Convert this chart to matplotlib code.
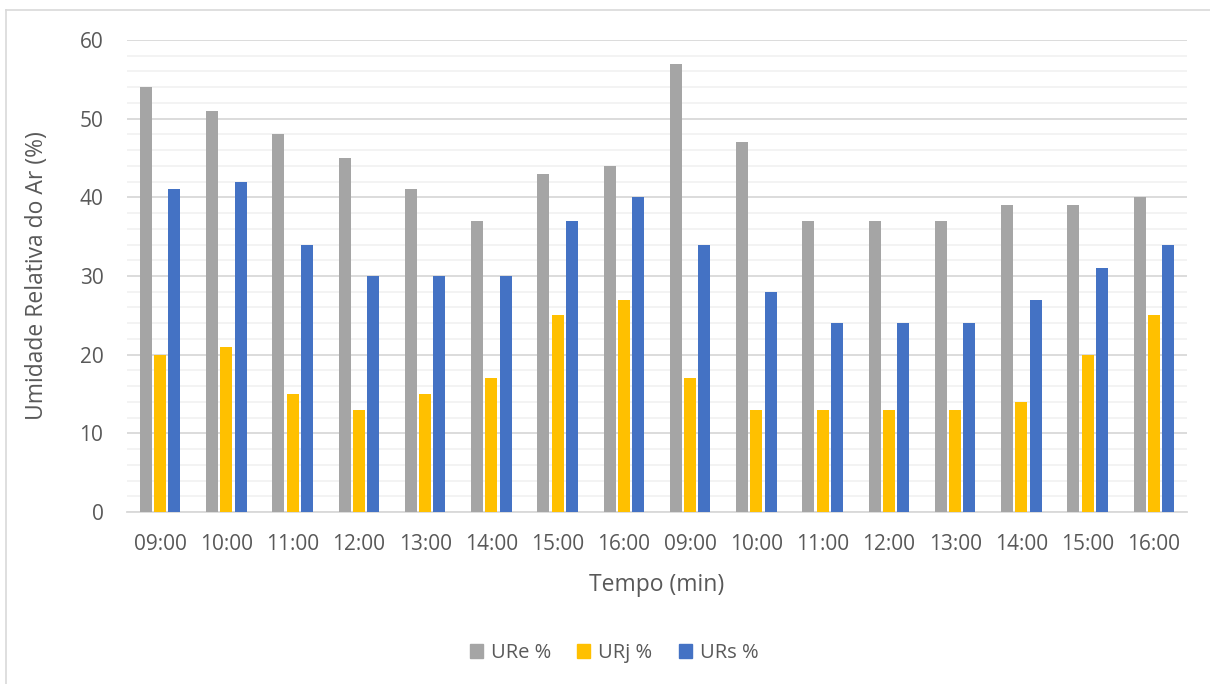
import matplotlib
matplotlib.use("Agg")
import matplotlib.pyplot as plt
from matplotlib.lines import Line2D
import numpy as np

categories = ["09:00", "10:00", "11:00", "12:00", "13:00", "14:00", "15:00", "16:00",
              "09:00", "10:00", "11:00", "12:00", "13:00", "14:00", "15:00", "16:00"]
ure = [54, 51, 48, 45, 41, 37, 43, 44, 57, 47, 37, 37, 37, 39, 39, 40]
urj = [20, 21, 15, 13, 15, 17, 25, 27, 17, 13, 13, 13, 13, 14, 20, 25]
urs = [41, 42, 34, 30, 30, 30, 37, 40, 34, 28, 24, 24, 24, 27, 31, 34]
series_names = ["URe %", "URj %", "URs %"]
colors = ["#A5A5A5", "#FFC000", "#4472C4"]

plt.rcParams["font.family"] = ["Open Sans", "DejaVu Sans"]
text_color = "#595959"

fig = plt.figure(figsize=(12.1, 6.84), dpi=100)
ax = fig.add_axes([127 / 1210, 1 - 512 / 684, 1060 / 1210, 472 / 684])

x = np.arange(len(categories))
width = 0.18
offset = 0.215
for vals, name, col, off in zip([ure, urj, urs], series_names, colors, [-offset, 0, offset]):
    ax.bar(x + off, vals, width=width, color=col, label=name, zorder=3)

ax.set_xlim(-0.5, len(categories) - 0.5)
ax.set_ylim(0, 60)
ax.set_yticks(range(0, 61, 10))
ax.set_yticks(range(0, 61, 2), minor=True)
ax.grid(axis="y", which="major", color="#D9D9D9", linewidth=1.3, zorder=0)
ax.grid(axis="y", which="minor", color="#F2F2F2", linewidth=1.3, zorder=0)
ax.set_xticks(x)
ax.set_xticklabels(categories)
ax.tick_params(axis="both", which="both", length=0, labelsize=15, colors=text_color)
ax.tick_params(axis="x", pad=16)
ax.tick_params(axis="y", pad=17)
for s in ["top", "right", "left"]:
    ax.spines[s].set_visible(False)
ax.spines["bottom"].set_color("#D9D9D9")
ax.spines["bottom"].set_linewidth(1.3)

ax.set_xlabel("Tempo (min)", fontsize=16.5, color=text_color, labelpad=13)
ax.set_ylabel("Umidade Relativa do Ar (%)", fontsize=16.5, color=text_color, labelpad=22)

handles = [plt.Rectangle((0, 0), 1, 1, color=c) for c in colors]
fig.legend(handles, series_names, loc="center", bbox_to_anchor=(614 / 1210, 1 - 653 / 684),
           ncol=3, frameon=False, fontsize=14.5, labelcolor=text_color,
           handlelength=0.65, handleheight=0.65, handletextpad=0.4, columnspacing=1.3)

# outer chart frame (top and left edges)
fig.add_artist(Line2D([6 / 1210, 1], [1 - 10 / 684, 1 - 10 / 684], color="#D9D9D9", linewidth=1.2))
fig.add_artist(Line2D([6 / 1210, 6 / 1210], [0, 1 - 10 / 684], color="#D9D9D9", linewidth=1.2))

fig.savefig("out.png", dpi=100, facecolor="white")
